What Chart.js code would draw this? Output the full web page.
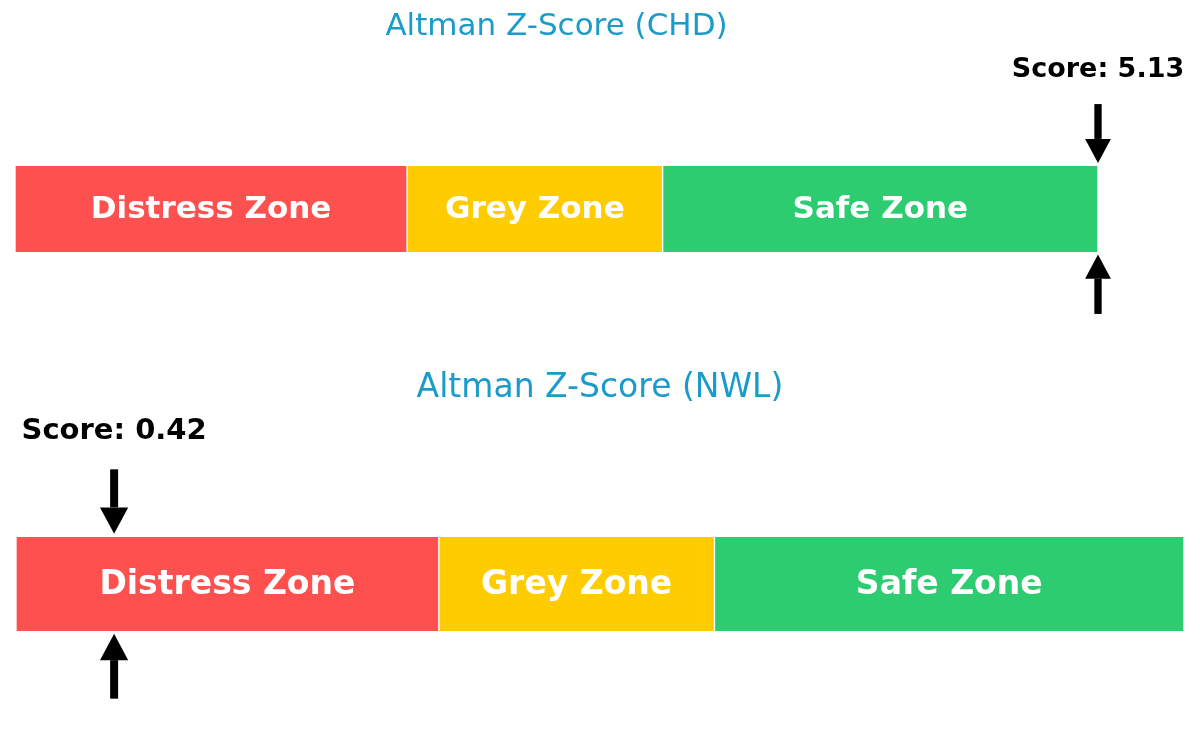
<!DOCTYPE html>
<html>
<head>
<meta charset="utf-8">
<script src="https://cdn.jsdelivr.net/npm/chart.js@4"></script>
<style>
  body { margin: 0; background: #fff; }
  #wrap { position: relative; width: 1200px; height: 746px; overflow: hidden; }
  #c1 { position: absolute; left: 0; top: 0; }
  #c2 { position: absolute; left: 0; top: 355px; }
</style>
</head>
<body>
<div id="wrap">
  <canvas id="c1" width="1200" height="373"></canvas>
  <canvas id="c2" width="1200" height="391"></canvas>
</div>
<script>
const companies = ['CHD', 'NWL'];
const scores = [5.13, 0.42];
const zoneNames = ['Distress Zone', 'Grey Zone', 'Safe Zone'];
const zoneBounds = [0, 1.81, 2.99, 5];
const zoneColors = ['#ff5050', '#ffcc00', '#2ecc71'];

const drawArrow = (ctx, x, fromY, toY, h) => {
  const dir = toY > fromY ? 1 : -1;
  const headLen = 0.28 * h;
  const headW = 0.3 * h;
  const shaftW = 0.085 * h;
  ctx.fillStyle = '#000';
  ctx.fillRect(x - shaftW / 2, Math.min(fromY, toY - dir * headLen), shaftW, Math.abs(toY - dir * headLen - fromY));
  ctx.beginPath();
  ctx.moveTo(x, toY);
  ctx.lineTo(x - headW / 2, toY - dir * headLen);
  ctx.lineTo(x + headW / 2, toY - dir * headLen);
  ctx.closePath();
  ctx.fill();
};

const zonePlugin = {
  id: 'zones',
  afterDatasetsDraw(chart, args, opts) {
    const ctx = chart.ctx;
    const xs = chart.scales.x;
    ctx.save();
    ctx.textAlign = 'center';
    ctx.textBaseline = 'middle';
    ctx.font = 'bold ' + opts.zoneFont + 'px "DejaVu Sans"';
    ctx.fillStyle = '#fff';
    chart.data.datasets.forEach((ds, i) => {
      const bar = chart.getDatasetMeta(i).data[0];
      ctx.fillText(ds.label, (bar.x + bar.base) / 2, bar.y + 1);
    });
    const b = chart.getDatasetMeta(0).data[0];
    const top = b.y - b.height / 2;
    const bottom = b.y + b.height / 2;
    const h = b.height;
    const x = xs.getPixelForValue(Math.min(opts.score, xs.max));
    drawArrow(ctx, x, top - 0.72 * h, top - 0.035 * h, h);
    drawArrow(ctx, x, bottom + 0.72 * h, bottom + 0.03 * h, h);
    ctx.font = 'bold ' + opts.scoreFont + 'px "DejaVu Sans"';
    ctx.textBaseline = 'alphabetic';
    ctx.fillText('Score: ' + opts.score.toFixed(2), x, top - 1.04 * h);
    ctx.restore();
  }
};

const makeChart = (id, idx, pad, titleFont, titlePad, zoneFont, scoreFont) => {
  const ctx = document.getElementById(id).getContext('2d');
  return new Chart(ctx, {
    type: 'bar',
    data: {
      labels: [companies[idx]],
      datasets: zoneNames.map((name, i) => ({
        label: name,
        data: [[zoneBounds[i], zoneBounds[i + 1]]],
        backgroundColor: zoneColors[i],
        borderColor: '#ffffff',
        borderWidth: { left: 1, right: 1, top: 0, bottom: 0 },
        borderSkipped: false,
        barPercentage: 1,
        categoryPercentage: 1,
      })),
    },
    options: {
      indexAxis: 'y',
      responsive: false,
      animation: false,
      layout: { padding: pad },
      scales: {
        x: { display: false, min: zoneBounds[0], max: zoneBounds[zoneBounds.length - 1], stacked: false },
        y: { display: false, stacked: true },
      },
      plugins: {
        legend: { display: false },
        tooltip: { enabled: false },
        title: {
          display: true,
          text: 'Altman Z-Score (' + companies[idx] + ')',
          color: '#1a9bc9',
          fullSize: false,
          font: { family: 'DejaVu Sans', size: titleFont, weight: 'normal', lineHeight: 1.2 },
          padding: titlePad,
        },
        zones: { score: scores[idx], zoneFont: zoneFont, scoreFont: scoreFont },
      },
    },
    plugins: [zonePlugin],
  });
};

makeChart('c1', 0, { left: 15, right: 102, top: 0, bottom: 121 }, 31, { top: 8, bottom: 120.8 }, 31, 27);
makeChart('c2', 1, { left: 16, right: 16, top: 0, bottom: 115 }, 33, { top: 14, bottom: 128.4 }, 33, 29);
</script>
</body>
</html>
